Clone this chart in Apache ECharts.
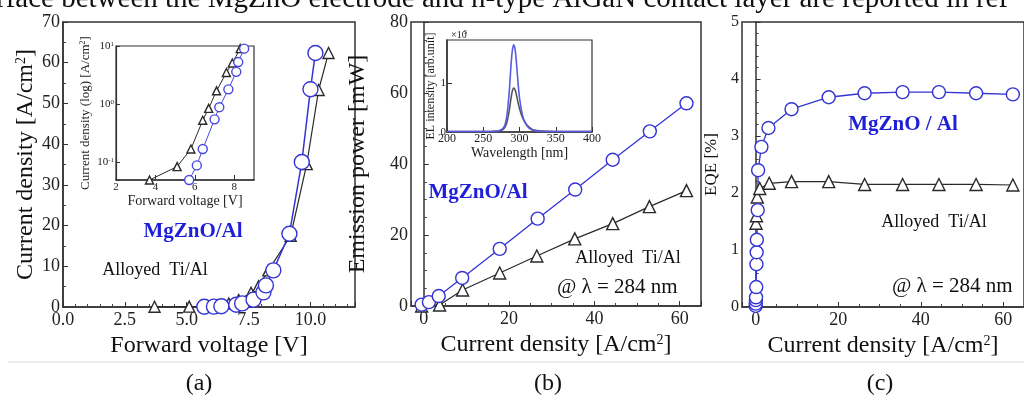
<!DOCTYPE html>
<html>
<head>
<meta charset="utf-8">
<script src="https://cdn.jsdelivr.net/npm/echarts@6/dist/echarts.min.js"></script>
<style>
html, body { margin: 0; padding: 0; background: #fff; }
#chart { width: 1024px; height: 397px; }
</style>
</head>
<body>
<div id="chart"></div>
<script>
// (a) current density vs forward voltage (same points for linear plot and log inset)
const vMg = [5.71, 6.1, 6.4, 7.0, 7.24, 7.7, 8.1, 8.2, 8.5, 9.15, 9.65, 10.0, 10.2];
const jMg = [0.05, 0.089, 0.17, 0.55, 0.89, 1.8, 3.6, 5.3, 9, 18, 35.6, 53.5, 62.4];
const vTi = [3.7, 5.1, 5.8, 6.4, 6.7, 7.1, 7.6, 7.9, 8.3, 9.2, 9.85, 10.33, 10.73];
const jTi = [0.05, 0.085, 0.17, 0.53, 0.85, 1.7, 3.5, 5.1, 9, 17.5, 35.1, 53.3, 62.4];

// (b) emission power vs current density
const jPowMg = [-0.5, 1.2, 3.5, 9.0, 17.8, 26.7, 35.5, 44.3, 53.0, 61.6];
const powMg = [0.4, 1.1, 2.8, 7.9, 16.1, 24.6, 32.8, 41.2, 49.2, 57.1];
const jPowTi = [-0.5, 3.7, 9.1, 17.8, 26.5, 35.4, 44.3, 52.9, 61.6];
const powTi = [0, 0.3, 4.5, 9.3, 14.1, 18.9, 23.2, 28.0, 32.5];

// (b) inset: EL spectra (x10^5 arb. unit)
const wavelength = [200, 260, 270, 276, 280, 283, 286, 288, 290, 292, 294, 296, 298, 300, 303, 306, 310, 315, 320, 330, 350, 400];
const elMg = [0.01, 0.01, 0.02, 0.06, 0.15, 0.38, 0.85, 1.3, 1.65, 1.78, 1.68, 1.38, 1.0, 0.7, 0.42, 0.25, 0.13, 0.06, 0.03, 0.015, 0.01, 0.01];
const elTi = [0.01, 0.01, 0.02, 0.04, 0.1, 0.22, 0.45, 0.66, 0.83, 0.9, 0.86, 0.74, 0.6, 0.48, 0.34, 0.24, 0.15, 0.08, 0.04, 0.02, 0.01, 0.01];

// (c) EQE vs current density
const jEqeMg = [0.02, 0.04, 0.06, 0.1, 0.15, 0.2, 0.25, 0.3, 0.5, 0.6, 1.4, 3.1, 8.7, 17.7, 26.4, 35.6, 44.4, 53.4, 62.3];
const eqeMg = [0.02, 0.06, 0.12, 0.17, 0.35, 0.75, 0.96, 1.18, 1.7, 2.4, 2.81, 3.14, 3.47, 3.68, 3.75, 3.77, 3.77, 3.75, 3.73];
const jEqeTi = [0.1, 0.2, 0.4, 1.0, 3.3, 8.7, 17.7, 26.4, 35.6, 44.4, 53.4, 62.3];
const eqeTi = [1.47, 1.6, 1.93, 2.08, 2.17, 2.2, 2.2, 2.15, 2.15, 2.15, 2.15, 2.14];

const SERIF = '"Liberation Serif", "DejaVu Serif", serif';
const BLUE = '#3434d4';
const BLUE_TXT = '#1f1fd8';
const DARK = '#2a2a2a';

const zip = (xs, ys) => xs.map((x, i) => [x, ys[i]]);

function valAxis(grid, o, fs) {
  return Object.assign({
    gridIndex: grid,
    type: 'value',
    axisLine: { show: true, lineStyle: { color: '#333', width: 1.5 } },
    axisTick: { show: true, inside: true, length: 5, lineStyle: { color: '#333' } },
    minorTick: { show: true, splitNumber: 4, length: 3, lineStyle: { color: '#444' } },
    splitLine: { show: false },
    minorSplitLine: { show: false },
    axisLabel: { fontFamily: SERIF, fontSize: fs, color: '#222', margin: 3 },
    nameLocation: 'middle',
    nameTextStyle: {
      fontFamily: SERIF, fontSize: 24, color: '#111',
      rich: { sup: { fontFamily: SERIF, fontSize: 14, verticalAlign: 'top', color: '#111' } }
    }
  }, o);
}

function lineSeries(x, y, data, sym, size, color, width, fill) {
  return {
    type: 'line', xAxisIndex: x, yAxisIndex: y, data: data,
    symbol: sym, symbolSize: size, showSymbol: true,
    lineStyle: { color: color, width: width },
    itemStyle: { color: fill, borderColor: color, borderWidth: 1.4 },
    emphasis: { disabled: true }
  };
}

const chart = echarts.init(document.getElementById('chart'));
chart.setOption({
  animation: false,
  backgroundColor: '#fff',
  grid: [
    { left: 63, top: 22, width: 292, height: 285, show: true, borderColor: '#333', borderWidth: 1.5 },
    { left: 116, top: 46, width: 138, height: 134, show: true, borderColor: '#333', borderWidth: 1.2, backgroundColor: '#fff' },
    { left: 411, top: 22, width: 290, height: 284, show: true, borderColor: '#333', borderWidth: 1.5 },
    { left: 447, top: 40, width: 145, height: 92, show: true, borderColor: '#333', borderWidth: 1.2, backgroundColor: '#fff' },
    { left: 742, top: 22, width: 289, height: 285, show: true, borderColor: '#333', borderWidth: 1.5 }
  ],
  xAxis: [
    valAxis(0, {
      min: 0, max: 11.8, interval: 2.5, name: 'Forward voltage [V]', nameGap: 26,
      minorTick: { show: true, splitNumber: 5, length: 3, lineStyle: { color: '#444' } },
      axisLabel: { fontFamily: SERIF, fontSize: 18, color: '#222', margin: 4, showMaxLabel: false, formatter: v => v.toFixed(1) }
    }, 18),
    valAxis(1, {
      min: 2, max: 9, interval: 2, name: 'Forward voltage [V]', nameGap: 14,
      nameTextStyle: { fontFamily: SERIF, fontSize: 14, color: '#222' },
      minorTick: { show: false },
      axisLabel: { fontFamily: SERIF, fontSize: 11, color: '#222', margin: 2, showMaxLabel: false }
    }, 11),
    valAxis(2, {
      min: -3, max: 65, minInterval: 20, maxInterval: 20, name: 'Current density [A/cm{sup|2}]', nameGap: 26,
      axisLabel: { fontFamily: SERIF, fontSize: 18, color: '#222', margin: 4, showMinLabel: false, showMaxLabel: false }
    }, 18),
    valAxis(3, {
      min: 200, max: 400, interval: 50, name: 'Wavelength [nm]', nameGap: 12,
      nameTextStyle: { fontFamily: SERIF, fontSize: 14, color: '#222' },
      minorTick: { show: false },
      axisLabel: { fontFamily: SERIF, fontSize: 12, color: '#222', margin: 1 }
    }, 12),
    valAxis(4, {
      min: -3.3, max: 65, minInterval: 20, maxInterval: 20, name: 'Current density [A/cm{sup|2}]', nameGap: 26,
      axisLabel: { fontFamily: SERIF, fontSize: 18, color: '#222', margin: 4, showMinLabel: false, showMaxLabel: false }
    }, 18)
  ],
  yAxis: [
    valAxis(0, {
      min: 0, max: 70, interval: 10, name: 'Current density [A/cm{sup|2}]', nameGap: 23,
      minorTick: { show: true, splitNumber: 2, length: 3, lineStyle: { color: '#444' } }
    }, 18),
    {
      gridIndex: 1, type: 'log', min: 0.05, max: 10, logBase: 10,
      axisLine: { show: true, lineStyle: { color: '#333', width: 1.2 } },
      axisTick: { show: true, inside: true, length: 4, lineStyle: { color: '#333' } },
      splitLine: { show: false },
      name: 'Current density (log) [A/cm{sup|2}]', nameLocation: 'middle', nameGap: 24,
      nameTextStyle: {
        fontFamily: SERIF, fontSize: 13, color: '#222',
        rich: { sup: { fontFamily: SERIF, fontSize: 8, verticalAlign: 'top', color: '#222' } }
      },
      axisLabel: {
        fontFamily: SERIF, fontSize: 11, color: '#222', margin: 2,
        formatter: v => {
          const e = Math.log10(v);
          if (Math.abs(e - Math.round(e)) > 0.01) return '';
          return '10{s|' + Math.round(e) + '}';
        },
        rich: { s: { fontFamily: SERIF, fontSize: 7, verticalAlign: 'top', color: '#222' } }
      }
    },
    valAxis(2, { min: 0, max: 80, interval: 20, name: 'Emission power [mW]', nameGap: 41 }, 18),
    valAxis(3, {
      min: 0, max: 1.88, interval: 1, name: 'EL intensity [arb.unit]', nameGap: 9,
      nameTextStyle: { fontFamily: SERIF, fontSize: 12, color: '#222' },
      minorTick: { show: false },
      axisLabel: { fontFamily: SERIF, fontSize: 11, color: '#222', margin: 1, showMaxLabel: false }
    }, 11),
    valAxis(4, {
      min: 0, max: 5, interval: 1, name: 'EQE [%]', nameGap: 22,
      nameTextStyle: { fontFamily: SERIF, fontSize: 17, color: '#111' },
      minorTick: { show: true, splitNumber: 5, length: 3, lineStyle: { color: '#444' } }
    }, 16)
  ],
  series: [
    lineSeries(0, 0, zip(vTi, jTi), 'triangle', 11, DARK, 1.2, '#fff'),
    lineSeries(0, 0, zip(vMg, jMg), 'circle', 15, BLUE, 1.5, '#fff'),
    lineSeries(1, 1, zip(vTi, jTi), 'triangle', 8, DARK, 1, '#fff'),
    lineSeries(1, 1, zip(vMg, jMg), 'circle', 9, '#4848dc', 1, '#fff'),
    lineSeries(2, 2, zip(jPowTi, powTi), 'triangle', 12, DARK, 1.2, '#fff'),
    lineSeries(2, 2, zip(jPowMg, powMg), 'circle', 13, BLUE, 1.3, '#fff'),
    {
      type: 'line', xAxisIndex: 3, yAxisIndex: 3, data: zip(wavelength, elTi),
      showSymbol: false, smooth: 0.3, lineStyle: { color: '#555', width: 1.6 }
    },
    {
      type: 'line', xAxisIndex: 3, yAxisIndex: 3, data: zip(wavelength, elMg),
      showSymbol: false, smooth: 0.3, lineStyle: { color: '#5a5ae6', width: 1.6 }
    },
    lineSeries(4, 4, zip(jEqeTi, eqeTi), 'triangle', 12, DARK, 1.2, '#fff'),
    lineSeries(4, 4, zip(jEqeMg, eqeMg), 'circle', 13, BLUE, 1.3, '#fff')
  ],
  graphic: [
    { type: 'text', x: -4, y: -1, style: { text: 'rface between the MgZnO electrode and n-type AlGaN contact layer are reported in ref', font: '29px ' + SERIF, fill: '#111', verticalAlign: 'middle' } },
    { type: 'text', x: 451, y: 35, style: { text: '\u00d710', font: '10px ' + SERIF, fill: '#222', verticalAlign: 'middle' } },
    { type: 'text', x: 464, y: 32, style: { text: '5', font: '6px ' + SERIF, fill: '#222', verticalAlign: 'middle' } },
    { type: 'text', x: 193, y: 232, style: { text: 'MgZnO/Al', font: 'bold 21px ' + SERIF, fill: BLUE_TXT, align: 'center', verticalAlign: 'middle' } },
    { type: 'text', x: 155, y: 270, style: { text: 'Alloyed  Ti/Al', font: '18px ' + SERIF, fill: '#111', align: 'center', verticalAlign: 'middle' } },
    { type: 'text', x: 478, y: 193, style: { text: 'MgZnO/Al', font: 'bold 21px ' + SERIF, fill: BLUE_TXT, align: 'center', verticalAlign: 'middle' } },
    { type: 'text', x: 628, y: 258, style: { text: 'Alloyed  Ti/Al', font: '18px ' + SERIF, fill: '#111', align: 'center', verticalAlign: 'middle' } },
    { type: 'text', x: 557, y: 287, style: { text: '@ \u03bb = 284 nm', font: '21px ' + SERIF, fill: '#111', verticalAlign: 'middle' } },
    { type: 'text', x: 903, y: 125, style: { text: 'MgZnO / Al', font: 'bold 21px ' + SERIF, fill: BLUE_TXT, align: 'center', verticalAlign: 'middle' } },
    { type: 'text', x: 934, y: 222, style: { text: 'Alloyed  Ti/Al', font: '18px ' + SERIF, fill: '#111', align: 'center', verticalAlign: 'middle' } },
    { type: 'text', x: 892, y: 286, style: { text: '@ \u03bb = 284 nm', font: '21px ' + SERIF, fill: '#111', verticalAlign: 'middle' } },
    { type: 'line', shape: { x1: 8, y1: 362, x2: 1024, y2: 362 }, style: { stroke: '#dcdcdc', lineWidth: 1 } },
    { type: 'text', x: 199, y: 384, style: { text: '(a)', font: '24px ' + SERIF, fill: '#111', align: 'center', verticalAlign: 'middle' } },
    { type: 'text', x: 548, y: 384, style: { text: '(b)', font: '24px ' + SERIF, fill: '#111', align: 'center', verticalAlign: 'middle' } },
    { type: 'text', x: 880, y: 384, style: { text: '(c)', font: '24px ' + SERIF, fill: '#111', align: 'center', verticalAlign: 'middle' } }
  ]
});
</script>
</body>
</html>
